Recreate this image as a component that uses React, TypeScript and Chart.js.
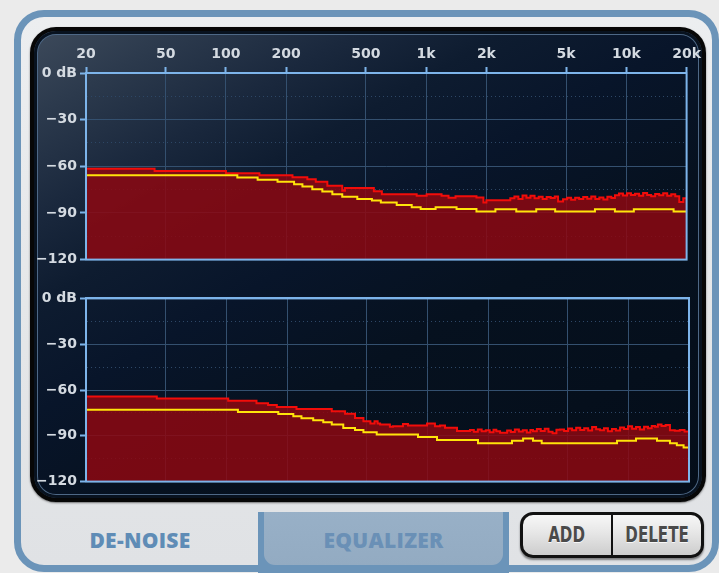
import React, { useEffect, useRef } from 'react';
import { Chart, registerables } from 'chart.js';

Chart.register(...registerables);

// ---- axis ticks ----
const FREQ_TICKS = [20, 50, 100, 200, 500, 1000, 2000, 5000, 10000, 20000];
const FREQ_LABELS = ['20', '50', '100', '200', '500', '1k', '2k', '5k', '10k', '20k'];
const DB_TICKS = [0, -15, -30, -45, -60, -75, -90, -105, -120];
const DB_LABELS = ['0 dB', '', '\u221230', '', '\u221260', '', '\u221290', '', '\u2212120'];

// ---- top graph: spectrum (red) and noise profile (yellow) ----
const TOP_PEAK_FREQ = [20, 44, 100, 147, 215, 255, 281, 321, 381, 393, 548, 601, 897, 1006, 1194, 1294, 1402, 1784, 1932, 2000, 2632, 2760, 2890, 3030, 3170, 3320, 3480, 3650, 3820, 4000, 4190, 4390, 4560, 4830, 5060, 5300, 5550, 5810, 6090, 6380, 6680, 7000, 7330, 7680, 8040, 8420, 8770, 9190, 9620, 10080, 10550, 11050, 11580, 12130, 12700, 13300, 13930, 14590, 15280, 16000, 16760, 17550, 18380, 19250, 20000];
const TOP_PEAK_DB = [-61.5, -63, -64.5, -65.7, -67, -68.3, -70, -72.5, -75.7, -74, -76, -77.9, -78.9, -77.9, -78.9, -80.2, -79.3, -80, -83.2, -81.9, -80.5, -79.5, -81, -78.8, -80.2, -79, -80.6, -79.6, -81, -79.8, -80.4, -79.4, -82.6, -81.2, -80.3, -81.5, -80.2, -81, -79.8, -80.8, -79.5, -81, -80, -81.3, -79.6, -80.4, -78.6, -77.5, -78.8, -77.3, -78.5, -77.6, -78.9, -77.2, -78.4, -79.3, -77.8, -78.6, -77.4, -78.9, -78, -79.2, -83, -80.5, -81];
const TOP_NOISE_FREQ = [20, 114, 144, 181, 219, 241, 270, 303, 340, 381, 453, 536, 594, 713, 847, 939, 1115, 1419, 1784, 2218, 2820, 3548, 4410, 6970, 8770, 10900, 17220, 20000];
const TOP_NOISE_DB = [-65.7, -67.2, -68.7, -70, -71.5, -73, -74.7, -76.2, -77.9, -79.6, -81, -82, -83.2, -84.9, -86.4, -87.4, -86.4, -87.4, -89.1, -87.6, -89.1, -87.6, -89.1, -87.6, -89.1, -87.6, -89.1, -89.1];

// ---- bottom graph ----
const BOTTOM_PEAK_FREQ = [20, 45, 102, 141, 161, 178, 223, 334, 389, 436, 480, 520, 545, 565, 581, 650, 673, 755, 800, 995, 1089, 1154, 1222, 1402, 1627, 1700, 1780, 1860, 1950, 2040, 2130, 2200, 2296, 2490, 2600, 2720, 2850, 2980, 3120, 3250, 3350, 3500, 3660, 3830, 4000, 4190, 4380, 4560, 4780, 5000, 5240, 5490, 5750, 6020, 6300, 6590, 6900, 7212, 7550, 7900, 8270, 8660, 9078, 9500, 9950, 10420, 10900, 11400, 11950, 12500, 13050, 13550, 14000, 14600, 15300, 16080, 17000, 18000, 19000, 20000];
const BOTTOM_PEAK_DB = [-64.3, -65.6, -67.1, -68.6, -69.9, -71.2, -72.5, -74, -75.5, -78.3, -80.4, -82, -80.4, -82, -82.6, -84, -83.7, -82.2, -83.2, -82, -83.7, -83.2, -84.7, -86.9, -86.2, -87.3, -85.9, -87, -86.4, -87.6, -86, -87.1, -88, -86.5, -87.5, -85.9, -87.2, -86.3, -87.8, -86.2, -87, -85.6, -86.8, -85.4, -87.4, -88.3, -86, -85.8, -86.9, -85.2, -86.4, -84.8, -86.2, -85, -86.5, -84.2, -85.7, -86.3, -85, -87, -85.6, -86.6, -84.5, -85.6, -83.8, -85.4, -84.2, -85.8, -84, -85, -83.6, -84, -82.6, -83.6, -82.9, -86.3, -86.7, -86.2, -87.2, -86.5];
const BOTTOM_NOISE_FREQ = [20, 114, 181, 215, 236, 270, 303, 334, 381, 436, 480, 559, 897, 1115, 1784, 2632, 2990, 3350, 3700, 8770, 10900, 13860, 16080, 17400, 18800, 20000];
const BOTTOM_NOISE_DB = [-72.9, -74.4, -75.7, -77.2, -78.5, -79.8, -81.1, -82.6, -84.9, -86.2, -87.7, -89.2, -90.8, -92.7, -94.8, -93.3, -91.8, -93.3, -94.8, -93.3, -91.8, -93.3, -94.8, -96.2, -97.6, -97.6];

const RED = '#f20d0a';
const YELLOW = '#ffe40a';
const FILL = 'rgba(140, 8, 18, 0.86)';
const FRAME = '#7db4ea';
const GRID = '#34506f';
const GRID_DOT = '#2d4766';
const LABEL = '#d4dae1';
const TICK_FONT = { family: '"DejaVu Sans", sans-serif', size: 14, weight: 'bold' as const };

const zip = (f: number[], d: number[]) => f.map((x, i) => ({ x, y: d[i] }));

const isMajor = (ctx: any) => ctx && ctx.tick && Math.round(ctx.tick.value) % 30 === 0;

const framePlugin = {
  id: 'plotFrame',
  afterDatasetsDraw(chart: any) {
    const { ctx, chartArea: a } = chart;
    ctx.save();
    ctx.strokeStyle = FRAME;
    ctx.lineWidth = 2;
    ctx.strokeRect(a.left, a.top, a.right - a.left, a.bottom - a.top);
    ctx.restore();
  },
};

function makeConfig(peak: any[], noise: any[], showX: boolean): any {
  return {
    type: 'line',
    data: {
      datasets: [
        { label: 'Noise profile', data: noise, borderColor: YELLOW, borderWidth: 2, stepped: true, pointRadius: 0, fill: false },
        { label: 'Spectrum', data: peak, borderColor: RED, borderWidth: 2, stepped: true, pointRadius: 0, fill: 'start', backgroundColor: FILL },
      ],
    },
    options: {
      responsive: false,
      animation: false,
      devicePixelRatio: 1,
      events: [],
      layout: { padding: { left: 0, right: 16, top: showX ? 0 : 10, bottom: 10 } },
      plugins: { legend: { display: false }, tooltip: { enabled: false } },
      scales: {
        x: {
          type: 'logarithmic',
          position: 'top',
          min: 20,
          max: 20000,
          afterBuildTicks: (s: any) => { s.ticks = FREQ_TICKS.map((v) => ({ value: v })); },
          afterFit: (s: any) => { s.height = showX ? 37 : 0; },
          ticks: {
            display: showX,
            autoSkip: false,
            maxRotation: 0,
            padding: 4,
            color: LABEL,
            font: TICK_FONT,
            callback: (v: any) => { const i = FREQ_TICKS.indexOf(Number(v)); return i >= 0 ? FREQ_LABELS[i] : ''; },
          },
          grid: { color: GRID, lineWidth: 1, drawTicks: showX, tickLength: 6, tickColor: FRAME, tickWidth: 2 },
          border: { display: true, color: FRAME, width: 2 },
        },
        y: {
          type: 'linear',
          min: -120,
          max: 0,
          afterBuildTicks: (s: any) => { s.ticks = DB_TICKS.map((v) => ({ value: v })); },
          afterFit: (s: any) => { s.width = 52; },
          ticks: {
            autoSkip: false,
            padding: 3,
            color: LABEL,
            font: TICK_FONT,
            callback: (v: any) => { const i = DB_TICKS.indexOf(Number(v)); return i >= 0 ? DB_LABELS[i] : ''; },
          },
          grid: {
            color: (c: any) => (isMajor(c) ? GRID : GRID_DOT),
            lineWidth: 1,
            drawTicks: true,
            tickLength: 6,
            tickWidth: 2,
            tickColor: (c: any) => (isMajor(c) ? FRAME : 'rgba(0,0,0,0)'),
          },
          border: {
            display: true,
            color: FRAME,
            width: 2,
            dash: (c: any) => (c && c.tick && !isMajor(c) ? [1, 3] : []),
          },
        },
      },
    },
    plugins: [framePlugin],
  };
}

function SpectrumChart(props: { peak: any[]; noise: any[]; showX: boolean; left: number; top: number; width: number; height: number }) {
  const ref = useRef<HTMLCanvasElement | null>(null);
  useEffect(() => {
    if (!ref.current) return;
    const chart = new Chart(ref.current, makeConfig(props.peak, props.noise, props.showX));
    return () => chart.destroy();
  }, []);
  return (
    <canvas
      ref={ref}
      width={props.width}
      height={props.height}
      style={{ position: 'absolute', left: props.left, top: props.top, width: props.width, height: props.height }}
    />
  );
}

const tabFont: React.CSSProperties = {
  fontFamily: '"Open Sans", "DejaVu Sans", sans-serif',
  fontWeight: 800,
  fontSize: 21,
  letterSpacing: 0.3,
  position: 'absolute',
  top: 525,
  height: 30,
  lineHeight: '30px',
  textAlign: 'center',
};

const btnCell: React.CSSProperties = {
  display: 'flex',
  alignItems: 'center',
  justifyContent: 'center',
  height: '100%',
};

const btnText: React.CSSProperties = {
  fontFamily: '"DejaVu Sans", sans-serif',
  fontWeight: 700,
  fontSize: 21,
  color: '#4a4a4a',
  textShadow: '0 1px 0 rgba(255,255,255,0.8)',
  display: 'inline-block',
  transform: 'scaleX(0.72)',
  whiteSpace: 'nowrap',
};

export default function App() {
  return (
    <div style={{ position: 'absolute', left: 0, top: 0, width: 719, height: 573, overflow: 'hidden', background: '#ebebeb' }}>
      {/* outer blue frame */}
      <div
        style={{
          position: 'absolute', left: 14, top: 10, width: 705, height: 562, boxSizing: 'border-box',
          border: '7px solid #6b94b9', borderRadius: 30,
          background: 'linear-gradient(180deg, #eceef0 0%, #e4e6e8 60%, #e0e2e5 100%)',
        }}
      />
      {/* dark display panel */}
      <div
        style={{
          position: 'absolute', left: 30, top: 27, width: 676, height: 475, boxSizing: 'border-box',
          border: '4px solid #070707', borderRadius: 26,
          background: 'linear-gradient(150deg, #3d4a5b 0%, #2c3a4d 10%, #1a283d 22%, #0e1c30 32%, #08152a 45%, #06111f 62%, #040d19 100%)',
          boxShadow: 'inset 0 0 0 3px #08121f, inset 0 0 0 4px #4e6886, 0 1px 2px rgba(0,0,0,0.5)',
        }}
      />
      <SpectrumChart peak={zip(TOP_PEAK_FREQ, TOP_PEAK_DB)} noise={zip(TOP_NOISE_FREQ, TOP_NOISE_DB)} showX={true} left={34} top={36} width={671} height={235} />
      <SpectrumChart peak={zip(BOTTOM_PEAK_FREQ, BOTTOM_PEAK_DB)} noise={zip(BOTTOM_NOISE_FREQ, BOTTOM_NOISE_DB)} showX={false} left={34} top={287} width={671} height={206} />

      {/* tabs */}
      <div style={{ ...tabFont, left: 40, width: 200, color: '#5f8cb6' }}>DE-NOISE</div>
      <div style={{ position: 'absolute', left: 258, top: 512, width: 251, height: 61, background: '#6b94b9' }}>
        <div style={{ position: 'absolute', left: 6, right: 6, top: 0, bottom: 8, background: 'linear-gradient(180deg, #98b0c7 0%, #93abc2 100%)', borderRadius: '0 0 11px 11px' }} />
      </div>
      <div style={{ ...tabFont, left: 268, width: 231, color: '#6a90b6' }}>EQUALIZER</div>

      {/* buttons */}
      <div
        style={{
          position: 'absolute', left: 520, top: 512, width: 184, height: 46, boxSizing: 'border-box',
          border: '3px solid #111', borderRadius: 13, overflow: 'hidden', display: 'flex',
          background: 'linear-gradient(180deg, #f7f7f7 0%, #e6e6e6 45%, #cdcdcd 100%)',
          boxShadow: '0 2px 2px rgba(0,0,0,0.45)',
        }}
      >
        <div style={{ ...btnCell, width: 88, borderRight: '2px solid #111' }}><span style={btnText}>ADD</span></div>
        <div style={{ ...btnCell, flex: 1 }}><span style={btnText}>DELETE</span></div>
      </div>
    </div>
  );
}
